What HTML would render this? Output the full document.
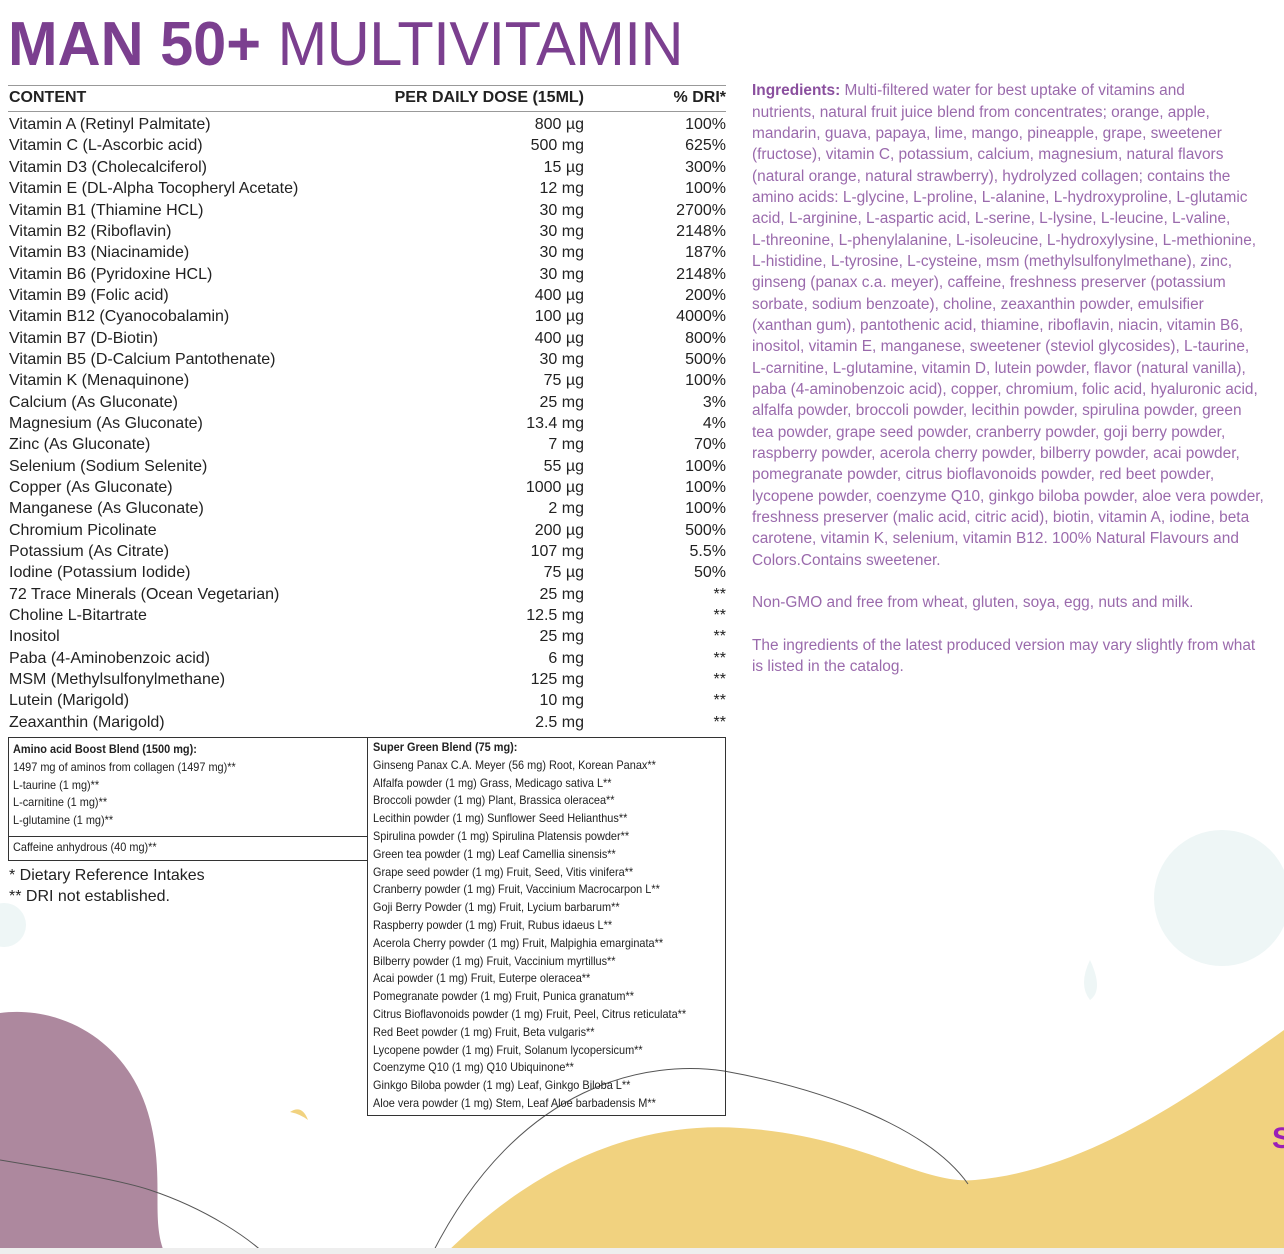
<!DOCTYPE html>
<html><head><meta charset="utf-8">
<style>
body{margin:0;width:1284px;height:1254px;position:relative;overflow:hidden;background:#fff;font-family:"Liberation Sans",sans-serif;}
.a{position:absolute;white-space:nowrap;}
.t{font-size:16px;line-height:20px;color:#222;}
.l{transform:scaleX(1);transform-origin:left center;}
.r{transform:scaleX(1);transform-origin:right center;text-align:right;}
.ing{position:absolute;left:752px;font-size:15.5px;line-height:20px;color:#9a6aac;white-space:nowrap;transform:scaleX(.995);transform-origin:left center;}
.s{font-size:12px;line-height:17.8px;color:#222;white-space:nowrap;transform:scaleX(.91);transform-origin:left center;}
</style></head><body>
<svg class="a" style="left:0;top:0" width="1284" height="1254">
<circle cx="1222" cy="898" r="68" fill="#eef6f6"/>
<circle cx="4" cy="925" r="22" fill="#eef6f6"/>
<path d="M1090 960 q-12 25 0 40 q14 -10 0 -40z" fill="#eef6f6"/>
<path d="M0 1013 C60 1005 130 1040 150 1120 C165 1180 150 1220 165 1254 L0 1254Z" fill="#ad889e"/>
<path d="M445 1254 C520 1180 620 1120 740 1128 C860 1135 920 1185 975 1180 C1090 1170 1200 1090 1284 1030 L1284 1254Z" fill="#f1d27f"/>
<path d="M0 1160 C60 1170 120 1180 150 1190 C210 1210 250 1240 265 1254" fill="none" stroke="#555" stroke-width="1"/>
<path d="M432 1254 C520 1080 650 1060 724 1071 C830 1090 930 1130 968 1184" fill="none" stroke="#555" stroke-width="1"/>
<path d="M290 1112 q12 -8 18 8 q-8 -6 -18 -8z" fill="#f1d27f"/>
<rect x="0" y="1248" width="1284" height="6" fill="#eee"/>
</svg>
<div class="a" style="left:8px;top:10px;font-size:62px;line-height:70px;color:#7b3f8f;transform:scaleX(.96);transform-origin:left center;"><b>MAN 50+</b> <span style="font-weight:normal;letter-spacing:-0.5px">MULTIVITAMIN</span></div>
<div class="a" style="left:8px;top:85px;width:718px;border-top:1px solid #999"></div>
<div class="a" style="left:8px;top:111px;width:718px;border-top:1px solid #999"></div>
<div class="a t l" style="left:9px;top:88px;font-weight:bold">CONTENT</div>
<div class="a t r" style="right:700px;top:88px;font-weight:bold">PER DAILY DOSE (15ML)</div>
<div class="a t r" style="right:558px;top:88px;font-weight:bold">% DRI*</div>
<div class="a t l" style="left:9px;top:115px">Vitamin A (Retinyl Palmitate)</div><div class="a t r" style="right:700px;top:115px">800 µg</div><div class="a t r" style="right:558px;top:115px">100%</div>
<div class="a t l" style="left:9px;top:136px">Vitamin C (L-Ascorbic acid)</div><div class="a t r" style="right:700px;top:136px">500 mg</div><div class="a t r" style="right:558px;top:136px">625%</div>
<div class="a t l" style="left:9px;top:158px">Vitamin D3 (Cholecalciferol)</div><div class="a t r" style="right:700px;top:158px">15 µg</div><div class="a t r" style="right:558px;top:158px">300%</div>
<div class="a t l" style="left:9px;top:179px">Vitamin E (DL-Alpha Tocopheryl Acetate)</div><div class="a t r" style="right:700px;top:179px">12 mg</div><div class="a t r" style="right:558px;top:179px">100%</div>
<div class="a t l" style="left:9px;top:201px">Vitamin B1 (Thiamine HCL)</div><div class="a t r" style="right:700px;top:201px">30 mg</div><div class="a t r" style="right:558px;top:201px">2700%</div>
<div class="a t l" style="left:9px;top:222px">Vitamin B2 (Riboflavin)</div><div class="a t r" style="right:700px;top:222px">30 mg</div><div class="a t r" style="right:558px;top:222px">2148%</div>
<div class="a t l" style="left:9px;top:243px">Vitamin B3 (Niacinamide)</div><div class="a t r" style="right:700px;top:243px">30 mg</div><div class="a t r" style="right:558px;top:243px">187%</div>
<div class="a t l" style="left:9px;top:265px">Vitamin B6 (Pyridoxine HCL)</div><div class="a t r" style="right:700px;top:265px">30 mg</div><div class="a t r" style="right:558px;top:265px">2148%</div>
<div class="a t l" style="left:9px;top:286px">Vitamin B9 (Folic acid)</div><div class="a t r" style="right:700px;top:286px">400 µg</div><div class="a t r" style="right:558px;top:286px">200%</div>
<div class="a t l" style="left:9px;top:307px">Vitamin B12 (Cyanocobalamin)</div><div class="a t r" style="right:700px;top:307px">100 µg</div><div class="a t r" style="right:558px;top:307px">4000%</div>
<div class="a t l" style="left:9px;top:329px">Vitamin B7 (D-Biotin)</div><div class="a t r" style="right:700px;top:329px">400 µg</div><div class="a t r" style="right:558px;top:329px">800%</div>
<div class="a t l" style="left:9px;top:350px">Vitamin B5 (D-Calcium Pantothenate)</div><div class="a t r" style="right:700px;top:350px">30 mg</div><div class="a t r" style="right:558px;top:350px">500%</div>
<div class="a t l" style="left:9px;top:371px">Vitamin K (Menaquinone)</div><div class="a t r" style="right:700px;top:371px">75 µg</div><div class="a t r" style="right:558px;top:371px">100%</div>
<div class="a t l" style="left:9px;top:393px">Calcium (As Gluconate)</div><div class="a t r" style="right:700px;top:393px">25 mg</div><div class="a t r" style="right:558px;top:393px">3%</div>
<div class="a t l" style="left:9px;top:414px">Magnesium (As Gluconate)</div><div class="a t r" style="right:700px;top:414px">13.4 mg</div><div class="a t r" style="right:558px;top:414px">4%</div>
<div class="a t l" style="left:9px;top:435px">Zinc (As Gluconate)</div><div class="a t r" style="right:700px;top:435px">7 mg</div><div class="a t r" style="right:558px;top:435px">70%</div>
<div class="a t l" style="left:9px;top:457px">Selenium (Sodium Selenite)</div><div class="a t r" style="right:700px;top:457px">55 µg</div><div class="a t r" style="right:558px;top:457px">100%</div>
<div class="a t l" style="left:9px;top:478px">Copper (As Gluconate)</div><div class="a t r" style="right:700px;top:478px">1000 µg</div><div class="a t r" style="right:558px;top:478px">100%</div>
<div class="a t l" style="left:9px;top:499px">Manganese (As Gluconate)</div><div class="a t r" style="right:700px;top:499px">2 mg</div><div class="a t r" style="right:558px;top:499px">100%</div>
<div class="a t l" style="left:9px;top:521px">Chromium Picolinate</div><div class="a t r" style="right:700px;top:521px">200 µg</div><div class="a t r" style="right:558px;top:521px">500%</div>
<div class="a t l" style="left:9px;top:542px">Potassium (As Citrate)</div><div class="a t r" style="right:700px;top:542px">107 mg</div><div class="a t r" style="right:558px;top:542px">5.5%</div>
<div class="a t l" style="left:9px;top:563px">Iodine (Potassium Iodide)</div><div class="a t r" style="right:700px;top:563px">75 µg</div><div class="a t r" style="right:558px;top:563px">50%</div>
<div class="a t l" style="left:9px;top:585px">72 Trace Minerals (Ocean Vegetarian)</div><div class="a t r" style="right:700px;top:585px">25 mg</div><div class="a t r" style="right:558px;top:585px">**</div>
<div class="a t l" style="left:9px;top:606px">Choline L-Bitartrate</div><div class="a t r" style="right:700px;top:606px">12.5 mg</div><div class="a t r" style="right:558px;top:606px">**</div>
<div class="a t l" style="left:9px;top:627px">Inositol</div><div class="a t r" style="right:700px;top:627px">25 mg</div><div class="a t r" style="right:558px;top:627px">**</div>
<div class="a t l" style="left:9px;top:649px">Paba (4-Aminobenzoic acid)</div><div class="a t r" style="right:700px;top:649px">6 mg</div><div class="a t r" style="right:558px;top:649px">**</div>
<div class="a t l" style="left:9px;top:670px">MSM (Methylsulfonylmethane)</div><div class="a t r" style="right:700px;top:670px">125 mg</div><div class="a t r" style="right:558px;top:670px">**</div>
<div class="a t l" style="left:9px;top:691px">Lutein (Marigold)</div><div class="a t r" style="right:700px;top:691px">10 mg</div><div class="a t r" style="right:558px;top:691px">**</div>
<div class="a t l" style="left:9px;top:713px">Zeaxanthin (Marigold)</div><div class="a t r" style="right:700px;top:713px">2.5 mg</div><div class="a t r" style="right:558px;top:713px">**</div>

<div class="a" style="left:8px;top:737px;width:358px;height:122px;border:1px solid #333"></div>
<div class="a" style="left:8px;top:836px;width:359px;border-top:1px solid #333"></div>
<div class="a" style="left:367px;top:737px;width:357px;height:377px;border:1px solid #333"></div>
<div class="a" style="left:13px;top:741px">
<div class="s" style="font-weight:bold">Amino acid Boost Blend (1500 mg):</div>
<div class="s">1497 mg of aminos from collagen (1497 mg)**</div>
<div class="s">L-taurine (1 mg)**</div>
<div class="s">L-carnitine (1 mg)**</div>
<div class="s">L-glutamine (1 mg)**</div>
</div>
<div class="a s" style="left:13px;top:839px">Caffeine anhydrous (40 mg)**</div>
<div class="a t l" style="left:9px;top:866px">* Dietary Reference Intakes</div>
<div class="a t l" style="left:9px;top:887px">** DRI not established.</div>
<div class="a" style="left:373px;top:739px">
<div class="s" style="font-weight:bold">Super Green Blend (75 mg):</div>
<div class="s">Ginseng Panax C.A. Meyer (56 mg) Root, Korean Panax**</div>
<div class="s">Alfalfa powder (1 mg) Grass, Medicago sativa L**</div>
<div class="s">Broccoli powder (1 mg) Plant, Brassica oleracea**</div>
<div class="s">Lecithin powder (1 mg) Sunflower Seed Helianthus**</div>
<div class="s">Spirulina powder (1 mg) Spirulina Platensis powder**</div>
<div class="s">Green tea powder (1 mg) Leaf Camellia sinensis**</div>
<div class="s">Grape seed powder (1 mg) Fruit, Seed, Vitis vinifera**</div>
<div class="s">Cranberry powder (1 mg) Fruit, Vaccinium Macrocarpon L**</div>
<div class="s">Goji Berry Powder (1 mg) Fruit, Lycium barbarum**</div>
<div class="s">Raspberry powder (1 mg) Fruit, Rubus idaeus L**</div>
<div class="s">Acerola Cherry powder (1 mg) Fruit, Malpighia emarginata**</div>
<div class="s">Bilberry powder (1 mg) Fruit, Vaccinium myrtillus**</div>
<div class="s">Acai powder (1 mg) Fruit, Euterpe oleracea**</div>
<div class="s">Pomegranate powder (1 mg) Fruit, Punica granatum**</div>
<div class="s">Citrus Bioflavonoids powder (1 mg) Fruit, Peel, Citrus reticulata**</div>
<div class="s">Red Beet powder (1 mg) Fruit, Beta vulgaris**</div>
<div class="s">Lycopene powder (1 mg) Fruit, Solanum lycopersicum**</div>
<div class="s">Coenzyme Q10 (1 mg) Q10 Ubiquinone**</div>
<div class="s">Ginkgo Biloba powder (1 mg) Leaf, Ginkgo Biloba L**</div>
<div class="s">Aloe vera powder (1 mg) Stem, Leaf Aloe barbadensis M**</div>
</div>

<div class="ing" style="top:81px"><b style="color:#8a4f9e">Ingredients:</b> Multi-filtered water for best uptake of vitamins and</div>
<div class="ing" style="top:103px">nutrients, natural fruit juice blend from concentrates; orange, apple,</div>
<div class="ing" style="top:124px">mandarin, guava, papaya, lime, mango, pineapple, grape, sweetener</div>
<div class="ing" style="top:145px">(fructose), vitamin C, potassium, calcium, magnesium, natural flavors</div>
<div class="ing" style="top:167px">(natural orange, natural strawberry), hydrolyzed collagen; contains the</div>
<div class="ing" style="top:188px">amino acids: L-glycine, L-proline, L-alanine, L-hydroxyproline, L-glutamic</div>
<div class="ing" style="top:209px">acid, L-arginine, L-aspartic acid, L-serine, L-lysine, L-leucine, L-valine,</div>
<div class="ing" style="top:231px">L-threonine, L-phenylalanine, L-isoleucine, L-hydroxylysine, L-methionine,</div>
<div class="ing" style="top:252px">L-histidine, L-tyrosine, L-cysteine, msm (methylsulfonylmethane), zinc,</div>
<div class="ing" style="top:273px">ginseng (panax c.a. meyer), caffeine, freshness preserver (potassium</div>
<div class="ing" style="top:295px">sorbate, sodium benzoate), choline, zeaxanthin powder, emulsifier</div>
<div class="ing" style="top:316px">(xanthan gum), pantothenic acid, thiamine, riboflavin, niacin, vitamin B6,</div>
<div class="ing" style="top:337px">inositol, vitamin E, manganese, sweetener (steviol glycosides), L-taurine,</div>
<div class="ing" style="top:359px">L-carnitine, L-glutamine, vitamin D, lutein powder, flavor (natural vanilla),</div>
<div class="ing" style="top:380px">paba (4-aminobenzoic acid), copper, chromium, folic acid, hyaluronic acid,</div>
<div class="ing" style="top:401px">alfalfa powder, broccoli powder, lecithin powder, spirulina powder, green</div>
<div class="ing" style="top:423px">tea powder, grape seed powder, cranberry powder, goji berry powder,</div>
<div class="ing" style="top:444px">raspberry powder, acerola cherry powder, bilberry powder, acai powder,</div>
<div class="ing" style="top:465px">pomegranate powder, citrus bioflavonoids powder, red beet powder,</div>
<div class="ing" style="top:487px">lycopene powder, coenzyme Q10, ginkgo biloba powder, aloe vera powder,</div>
<div class="ing" style="top:508px">freshness preserver (malic acid, citric acid), biotin, vitamin A, iodine, beta</div>
<div class="ing" style="top:529px">carotene, vitamin K, selenium, vitamin B12. 100% Natural Flavours and</div>
<div class="ing" style="top:551px">Colors.Contains sweetener.</div>
<div class="ing" style="top:593px">Non-GMO and free from wheat, gluten, soya, egg, nuts and milk.</div>
<div class="ing" style="top:636px">The ingredients of the latest produced version may vary slightly from what</div>
<div class="ing" style="top:657px">is listed in the catalog.</div>
<div class="a" style="left:1272px;top:1122px;font-size:30px;font-weight:bold;color:#9b1fb8">S</div>
</body></html>
